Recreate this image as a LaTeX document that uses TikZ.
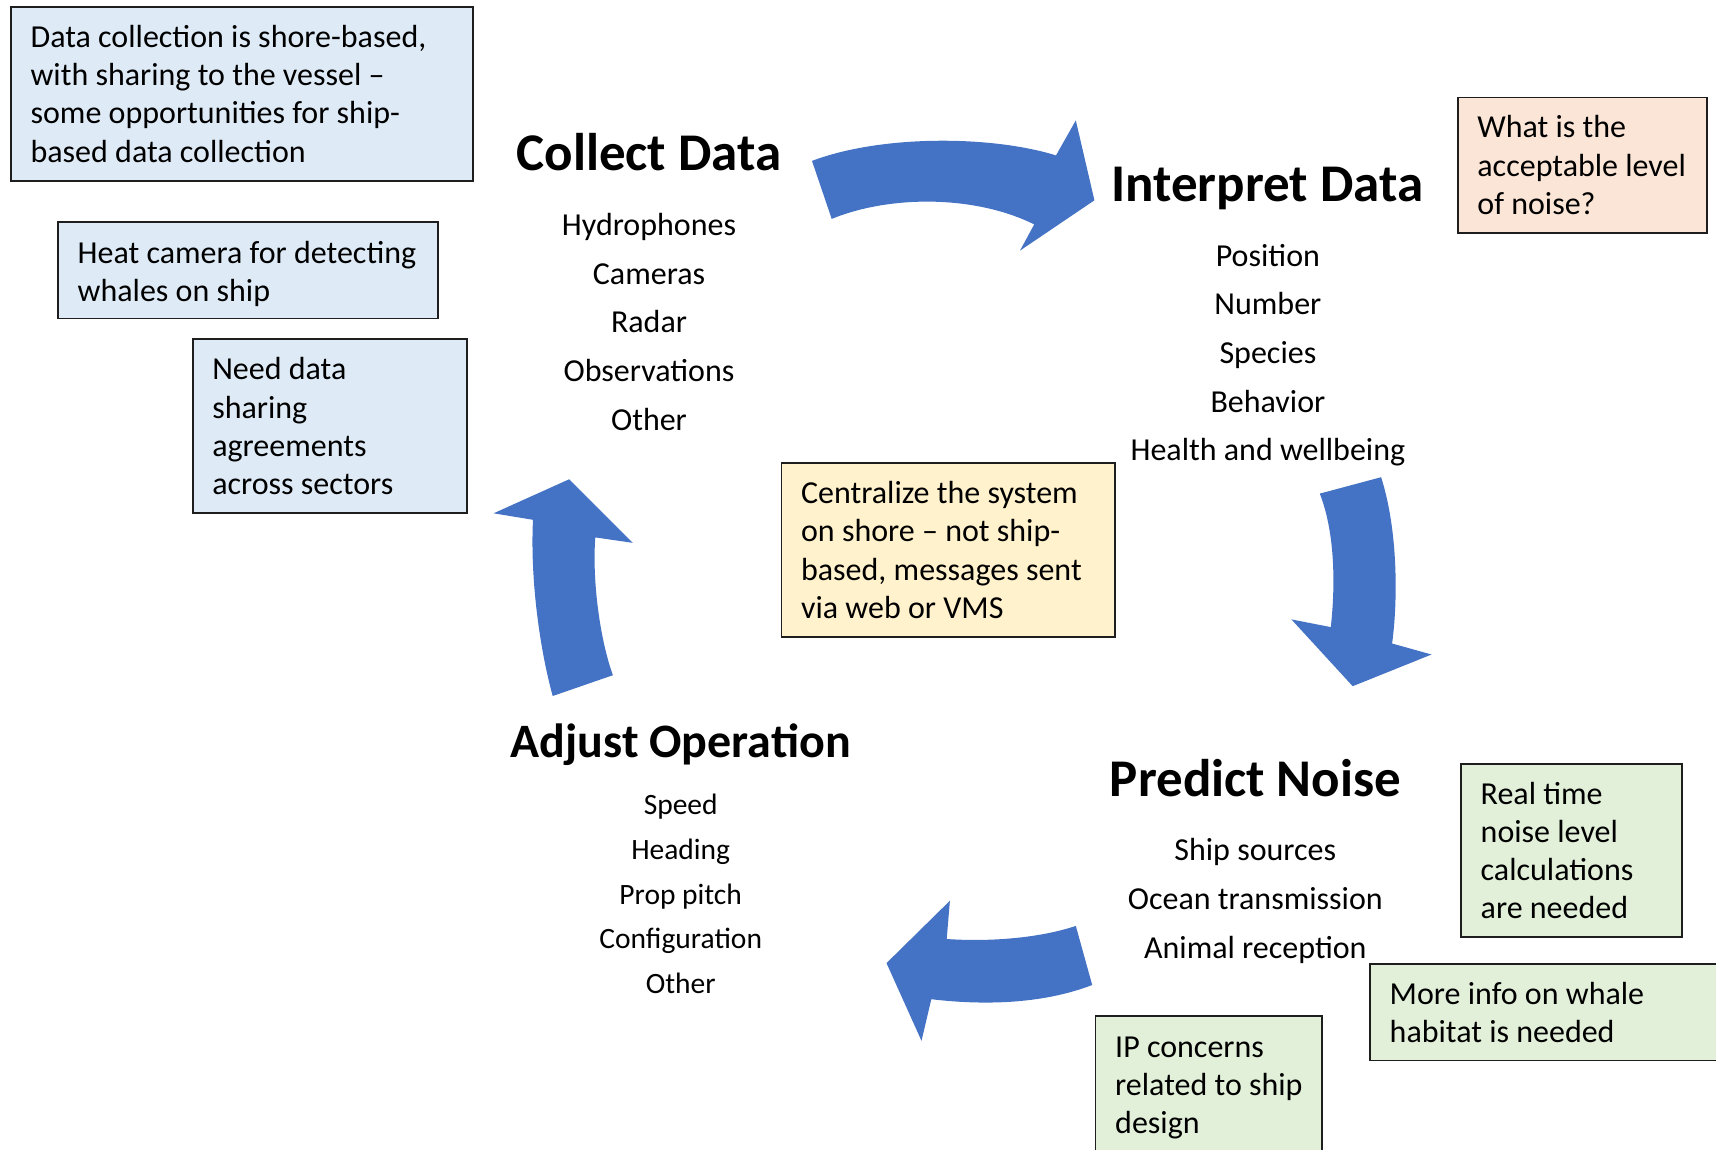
\documentclass[tikz,border=0pt]{standalone}
\usepackage{fontspec}
\setmainfont{Carlito}
\definecolor{arrowblue}{HTML}{4472C4}
\definecolor{cblue}{HTML}{DEEBF7}
\definecolor{corange}{HTML}{FBE5D6}
\definecolor{cyellow}{HTML}{FFF2CC}
\definecolor{cgreen}{HTML}{E2F0D9}
\definecolor{cborder}{HTML}{1E1E1E}
\begin{document}
\begin{tikzpicture}[x=1pt,y=-1pt,
  every node/.style={inner sep=0pt, outer sep=0pt},
  notebox/.style={draw=cborder, line width=1.8pt, anchor=north west},
  notetext/.style={anchor=west, align=left, font=\fontsize{32}{38.3}\selectfont},
  title/.style={anchor=base, font=\bfseries\fontsize{53}{64}\selectfont},
  item/.style={anchor=base, font=\fontsize{32}{38}\selectfont},
  smallitem/.style={anchor=base, font=\fontsize{29.5}{35}\selectfont},
  blockarrow/.style={fill=arrowblue, draw=none}]
\path[use as bounding box, fill=white] (0,0) rectangle (1716,1149);
\clip (0,0) rectangle (1716,1149);

% ---- note boxes ----
\node[notebox, fill=cblue, minimum width=461.9pt, minimum height=174pt] (b1) at (10.9,6.6) {};
\node[notetext] (b1t) at ([xshift=19.7pt]b1.west) {Data collection is shore-based,\\with sharing to the vessel –\\some opportunities for ship-\\based data collection};

\node[notebox, fill=cblue, minimum width=379.8pt, minimum height=96.3pt] (b2) at (58,222.2) {};
\node[notetext] (b2t) at ([xshift=19.7pt,yshift=-3.3pt]b2.west) {Heat camera for detecting\\whales on ship};

\node[notebox, fill=cblue, minimum width=274.7pt, minimum height=174pt] (b3) at (192.6,339.3) {};
\node[notetext] (b3t) at ([xshift=19.7pt]b3.west) {Need data\\sharing\\agreements\\across sectors};

\node[notebox, fill=corange, minimum width=249.6pt, minimum height=135.7pt] (b4) at (1457.7,97.4) {};
\node[notetext] (b4t) at ([xshift=19.7pt]b4.west) {What is the\\acceptable level\\of noise?};

\node[notebox, fill=cyellow, minimum width=333.8pt, minimum height=174.1pt] (b5) at (781.4,462.9) {};
\node[notetext] (b5t) at ([xshift=19.7pt]b5.west) {Centralize the system\\on shore – not ship-\\based, messages sent\\via web or VMS};

\node[notebox, fill=cgreen, minimum width=221pt, minimum height=173pt] (b6) at (1461,764) {};
\node[notetext] (b6t) at ([xshift=19.7pt]b6.west) {Real time\\noise level\\calculations\\are needed};

\node[notebox, fill=cgreen, minimum width=400pt, minimum height=96.5pt] (b7) at (1370,964) {};
\node[notetext] (b7t) at ([xshift=19.7pt]b7.west) {More info on whale\\habitat is needed};

\node[notebox, fill=cgreen, minimum width=226.5pt, minimum height=138pt] (b8) at (1095.5,1015.6) {};
\node[notetext] (b8t) at ([xshift=19.7pt,yshift=-3.3pt]b8.west) {IP concerns\\related to ship\\design};

% ---- titles ----
\node[title] (collect) at (649,170) {Collect Data};
\node[title] (interp) at (1267.3,201) {Interpret Data};
\node[title, font=\bfseries\fontsize{48}{58}\selectfont] (adjust) at (680.7,757.5) {Adjust Operation};
\node[title] (predict) at (1255.6,796) {Predict Noise};

% ---- lists ----
\foreach \t [count=\i] in {Hydrophones,Cameras,Radar,Observations,Other}
  \node[item] (cd\i) at (649,{235.4+(\i-1)*48.7}) {\t};
\foreach \t [count=\i] in {Position,Number,Species,Behavior,Health and wellbeing}
  \node[item] (id\i) at (1267.9,{266+(\i-1)*48.7}) {\t};
\foreach \t [count=\i] in {Speed,Heading,Prop pitch,Configuration,Other}
  \node[smallitem] (ao\i) at (680.7,{814.8+(\i-1)*44.6}) {\t};
\foreach \t [count=\i] in {Ship sources,Ocean transmission,Animal reception}
  \node[item] (pn\i) at (1255.3,{860.8+(\i-1)*48.75}) {\t};

% ---- curved block arrows ----
\fill[blockarrow] (812,160.9) .. controls (880,135) and (990,135) .. (1056,155.4)
  -- (1075.8,120.4) -- (1094.4,200.3) -- (1020,250.6) -- (1034.2,224.4)
  .. controls (975,195) and (890,195) .. (831.7,218.9) -- cycle;
\fill[blockarrow] (1319.8,493.6) -- (1381.1,477.2) .. controls (1398,530) and (1398,600) .. (1392.1,643.5)
  -- (1431.5,654.5) -- (1352.7,686.2) -- (1291.4,619.4) -- (1330.8,627.1)
  .. controls (1336,580) and (1334,530) .. (1319.8,493.6) -- cycle;
\fill[blockarrow] (1075.8,925.9) -- (1092.2,985) .. controls (1040,1005) and (980,1005) .. (931.3,999.2)
  -- (921.5,1040.8) -- (886.5,963.1) -- (949.9,900.7) -- (946.7,939)
  .. controls (990,942) and (1040,938) .. (1075.8,925.9) -- cycle;
\fill[blockarrow] (552.7,696) -- (612.9,675.2) .. controls (600,640) and (592,580) .. (595.3,537.4)
  -- (632.6,542.8) -- (569.1,479.3) -- (493.6,513.3) -- (533,519.8)
  .. controls (530,580) and (540,650) .. (552.7,696) -- cycle;
\end{tikzpicture}
\end{document}
